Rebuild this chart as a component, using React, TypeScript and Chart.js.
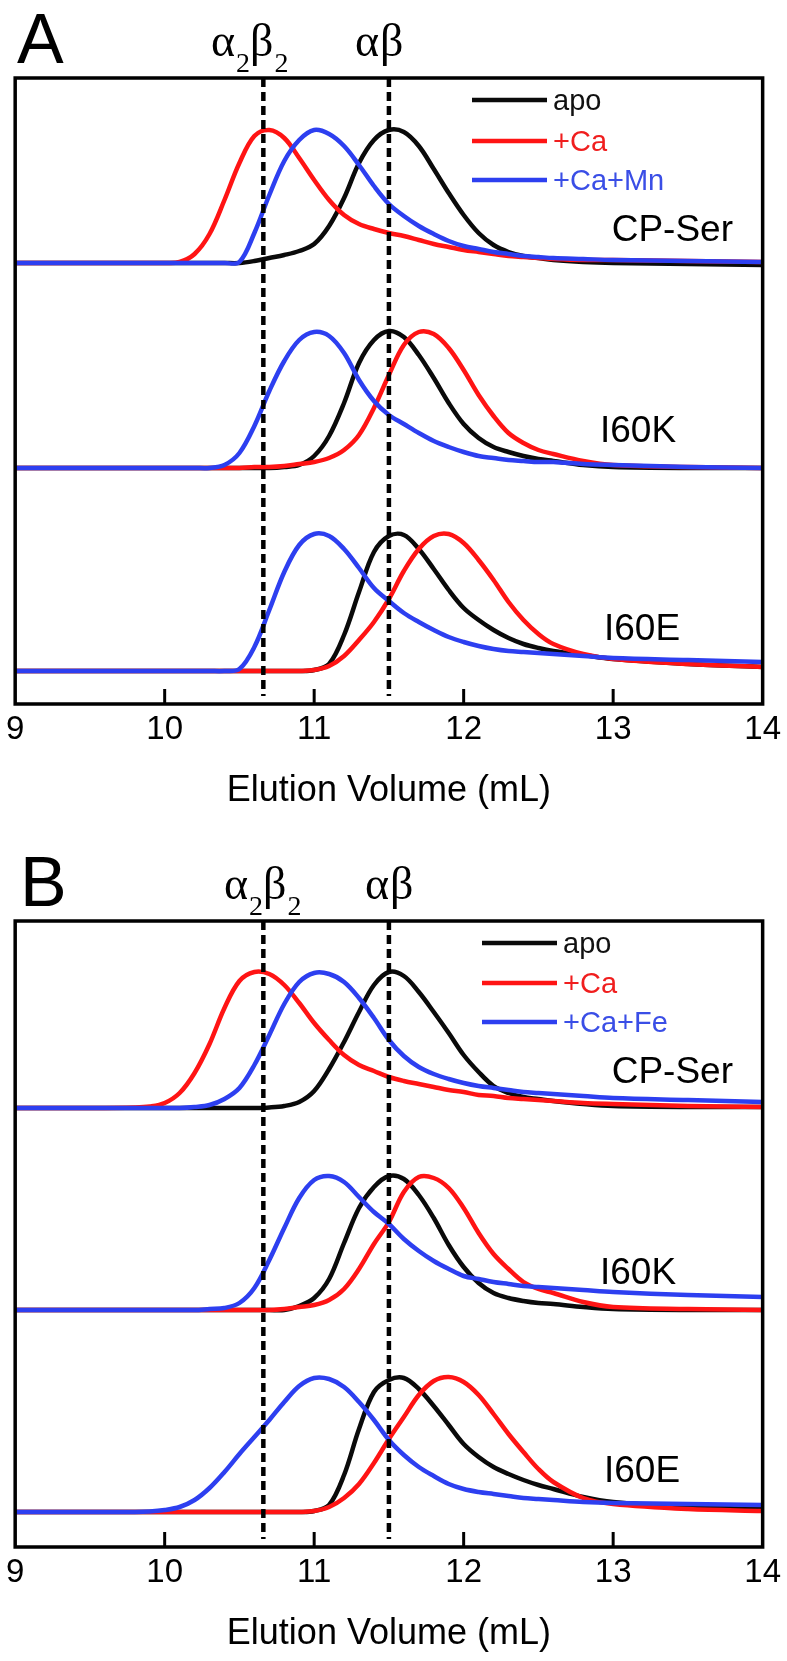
import { useEffect, useRef } from "react";
import { Chart, registerables } from "chart.js";

Chart.register(...registerables);

// ---------- data ----------
const elutionVolume = [
  9.0, 9.5, 9.8, 9.9, 10.0, 10.1, 10.2, 10.3, 10.4, 10.5, 10.6, 10.7, 10.8, 10.9, 11.0, 11.1, 11.2,
  11.3, 11.4, 11.5, 11.6, 11.7, 11.8, 11.9, 12.0, 12.1, 12.2, 12.3, 12.4, 12.5, 12.6, 12.8, 13.0, 13.5, 14.0,
];
const xTickValues = [9, 10, 11, 12, 13, 14];
const markerVolumes = [10.66, 11.5];
const groupNames = ["CP-Ser", "I60K", "I60E"];
const seriesNamesA = ["apo", "+Ca", "+Ca+Mn"];
const seriesNamesB = ["apo", "+Ca", "+Ca+Fe"];
const stackOffsetsA = [4.41, 2.36, 0.33];
const stackOffsetsB = [4.39, 2.37, 0.35];

// Panel A (normalised absorbance above each trace baseline)
const aCpSerApo = [0, 0, 0, 0, 0, 0, 0, 0, 0, 0, 0.02, 0.05, 0.08, 0.12, 0.19, 0.37, 0.65, 1.0, 1.23, 1.33, 1.31, 1.17, 0.94, 0.7, 0.48, 0.3, 0.18, 0.11, 0.07, 0.05, 0.03, 0.01, 0.0, -0.01, -0.02];
const aCpSerCa = [0, 0, 0, 0, 0, 0.01, 0.09, 0.29, 0.63, 1.0, 1.27, 1.33, 1.25, 1.05, 0.83, 0.63, 0.48, 0.39, 0.34, 0.3, 0.27, 0.23, 0.19, 0.16, 0.13, 0.11, 0.09, 0.07, 0.06, 0.05, 0.04, 0.03, 0.03, 0.02, 0.01];
const aCpSerMn = [0, 0, 0, 0, 0, 0, 0, 0, 0, 0.01, 0.3, 0.68, 1.02, 1.23, 1.33, 1.29, 1.17, 0.98, 0.77, 0.59, 0.47, 0.37, 0.29, 0.22, 0.17, 0.14, 0.11, 0.09, 0.07, 0.06, 0.05, 0.04, 0.03, 0.02, 0.01];
const aI60KApo = [0, 0, 0, 0, 0, 0, 0, 0, 0, 0, 0, 0, 0.01, 0.03, 0.12, 0.32, 0.65, 1.05, 1.28, 1.37, 1.31, 1.13, 0.9, 0.65, 0.44, 0.3, 0.21, 0.16, 0.12, 0.09, 0.07, 0.03, 0.01, 0, 0];
const aI60KCa = [0, 0, 0, 0, 0, 0, 0, 0, 0, 0, 0.01, 0.01, 0.02, 0.04, 0.06, 0.1, 0.18, 0.33, 0.6, 0.93, 1.23, 1.36, 1.34, 1.2, 0.98, 0.73, 0.52, 0.35, 0.25, 0.18, 0.14, 0.07, 0.03, 0.01, 0];
const aI60KMn = [0, 0, 0, 0, 0, 0, 0, 0, 0.03, 0.15, 0.42, 0.77, 1.07, 1.28, 1.36, 1.32, 1.15, 0.88, 0.67, 0.53, 0.44, 0.35, 0.27, 0.21, 0.16, 0.12, 0.1, 0.08, 0.07, 0.06, 0.06, 0.04, 0.03, 0.01, 0];
const aI60EApo = [0, 0, 0, 0, 0, 0, 0, 0, 0, 0, 0, 0, 0, 0, 0.01, 0.07, 0.36, 0.79, 1.19, 1.35, 1.36, 1.22, 1.02, 0.81, 0.63, 0.51, 0.41, 0.33, 0.27, 0.23, 0.2, 0.16, 0.12, 0.07, 0.04];
const aI60ECa = [0, 0, 0, 0, 0, 0, 0, 0, 0, 0, 0, 0, 0, 0, 0.01, 0.05, 0.15, 0.31, 0.49, 0.72, 1.0, 1.22, 1.35, 1.37, 1.28, 1.11, 0.91, 0.69, 0.51, 0.37, 0.27, 0.17, 0.12, 0.07, 0.04];
const aI60EMn = [0, 0, 0, 0, 0, 0, 0, 0, 0, 0.02, 0.24, 0.61, 0.99, 1.26, 1.37, 1.35, 1.22, 1.03, 0.83, 0.7, 0.58, 0.49, 0.41, 0.34, 0.29, 0.25, 0.22, 0.2, 0.19, 0.18, 0.17, 0.15, 0.13, 0.11, 0.09];

// Panel B
const bCpSerApo = [0, 0, 0, 0, 0, 0, 0, 0, 0, 0, 0, 0.005, 0.02, 0.06, 0.17, 0.39, 0.66, 0.96, 1.23, 1.36, 1.32, 1.16, 0.96, 0.75, 0.53, 0.36, 0.22, 0.15, 0.11, 0.09, 0.07, 0.04, 0.02, 0.01, 0.01];
const bCpSerCa = [0, 0, 0.005, 0.015, 0.05, 0.15, 0.35, 0.64, 1.0, 1.27, 1.36, 1.34, 1.23, 1.05, 0.85, 0.68, 0.53, 0.43, 0.37, 0.31, 0.27, 0.24, 0.21, 0.18, 0.16, 0.13, 0.12, 0.1, 0.09, 0.08, 0.07, 0.05, 0.04, 0.02, 0.01];
const bCpSerFe = [0, 0, 0, 0, 0, 0, 0.01, 0.03, 0.09, 0.2, 0.43, 0.73, 1.04, 1.26, 1.35, 1.34, 1.26, 1.1, 0.9, 0.68, 0.52, 0.41, 0.34, 0.29, 0.25, 0.22, 0.2, 0.18, 0.16, 0.15, 0.14, 0.12, 0.1, 0.08, 0.06];
const bI60KApo = [0, 0, 0, 0, 0, 0, 0, 0, 0, 0, 0, 0, 0, 0.04, 0.12, 0.31, 0.67, 1.02, 1.23, 1.34, 1.31, 1.15, 0.92, 0.65, 0.43, 0.27, 0.17, 0.12, 0.09, 0.07, 0.06, 0.03, 0.01, 0, 0];
const bI60KCa = [0, 0, 0, 0, 0, 0, 0, 0, 0, 0, 0, 0, 0.01, 0.03, 0.05, 0.1, 0.21, 0.41, 0.66, 0.88, 1.18, 1.33, 1.32, 1.22, 1.02, 0.77, 0.56, 0.41, 0.28, 0.21, 0.17, 0.08, 0.03, 0.01, 0];
const bI60KFe = [0, 0, 0, 0, 0, 0, 0, 0.01, 0.02, 0.07, 0.22, 0.5, 0.82, 1.12, 1.3, 1.34, 1.28, 1.13, 0.98, 0.86, 0.71, 0.59, 0.49, 0.41, 0.34, 0.31, 0.28, 0.26, 0.24, 0.23, 0.22, 0.2, 0.18, 0.15, 0.13];
const bI60EApo = [0, 0, 0, 0, 0, 0, 0, 0, 0, 0, 0, 0, 0, 0, 0.01, 0.07, 0.37, 0.83, 1.2, 1.32, 1.34, 1.23, 1.06, 0.87, 0.68, 0.55, 0.45, 0.38, 0.32, 0.27, 0.23, 0.15, 0.1, 0.05, 0.03];
const bI60ECa = [0, 0, 0, 0, 0, 0, 0, 0, 0, 0, 0, 0, 0, 0, 0.01, 0.05, 0.14, 0.28, 0.49, 0.73, 0.95, 1.17, 1.31, 1.35, 1.3, 1.17, 0.98, 0.78, 0.6, 0.43, 0.3, 0.14, 0.08, 0.03, 0.01];
const bI60EFe = [0, 0, 0, 0.005, 0.02, 0.05, 0.12, 0.24, 0.4, 0.58, 0.75, 0.92, 1.1, 1.26, 1.34, 1.33, 1.25, 1.1, 0.92, 0.72, 0.57, 0.45, 0.36, 0.28, 0.23, 0.2, 0.18, 0.16, 0.14, 0.13, 0.12, 0.1, 0.09, 0.08, 0.07];

// ---------- styling ----------
const SANS = '"Liberation Sans", Arial, Helvetica, sans-serif';
const SERIF = '"Liberation Serif", "Times New Roman", serif';
const COLORS = ["#0a0a0a", "#ff1414", "#2d3ff0"];
const TEXT_COLORS = ["#111111", "#f01e1e", "#3a4ee6"];
const Y_MAX = 6.26;
const DASH_BOTTOM = 0.08;

type Panel = {
  letter: string;
  letterX: number;
  seriesNames: string[];
  values: number[][][];
  offsets: number[];
  legendX: number;
  legendRows: number[];
  pairLeft: number;
  monoLeft: number;
  groupLabelBaselines: number[];
};

const panels: Panel[] = [
  {
    letter: "A",
    letterX: 17,
    seriesNames: seriesNamesA,
    values: [
      [aCpSerApo, aCpSerCa, aCpSerMn],
      [aI60KApo, aI60KCa, aI60KMn],
      [aI60EApo, aI60ECa, aI60EMn],
    ],
    offsets: stackOffsetsA,
    legendX: 472,
    legendRows: [100, 141, 180],
    pairLeft: 211,
    monoLeft: 355,
    groupLabelBaselines: [241, 442, 640],
  },
  {
    letter: "B",
    letterX: 20,
    seriesNames: seriesNamesB,
    values: [
      [bCpSerApo, bCpSerCa, bCpSerFe],
      [bI60KApo, bI60KCa, bI60KFe],
      [bI60EApo, bI60ECa, bI60EFe],
    ],
    offsets: stackOffsetsB,
    legendX: 482,
    legendRows: [100, 140, 179],
    pairLeft: 224,
    monoLeft: 365,
    groupLabelBaselines: [240, 441, 639],
  },
];

function drawGreek(ctx: CanvasRenderingContext2D, parts: [string, boolean][], left: number, baseline: number) {
  let x = left;
  for (const [t, sub] of parts) {
    ctx.font = sub ? `28px ${SERIF}` : `46px ${SERIF}`;
    ctx.fillText(t, x, sub ? baseline + 16 : baseline);
    x += ctx.measureText(t).width + (sub ? 0 : 1);
  }
}

function makePlugin(p: Panel) {
  return {
    id: "panelDecor",
    afterDatasetsDraw(chart: any) {
      const { ctx, chartArea } = chart;
      const xs = chart.scales.x;
      ctx.save();
      ctx.strokeStyle = "#000";
      ctx.lineWidth = 3.5;
      ctx.strokeRect(chartArea.left, chartArea.top, chartArea.right - chartArea.left, chartArea.bottom - chartArea.top);
      // inward tick marks
      ctx.lineWidth = 3;
      for (const v of xTickValues) {
        if (v === xs.min || v === xs.max) continue;
        const px = xs.getPixelForValue(v);
        ctx.beginPath();
        ctx.moveTo(px, chartArea.bottom);
        ctx.lineTo(px, chartArea.bottom - 15);
        ctx.stroke();
      }
      ctx.restore();
    },
    afterDraw(chart: any) {
      const { ctx } = chart;
      ctx.save();
      ctx.fillStyle = "#000";
      ctx.textBaseline = "alphabetic";
      ctx.textAlign = "left";
      // panel letter
      ctx.font = `70px ${SANS}`;
      ctx.fillText(p.letter, p.letterX, 63);
      // oligomer markers
      drawGreek(ctx, [["α", false], ["2", true], ["β", false], ["2", true]], p.pairLeft, 56);
      drawGreek(ctx, [["α", false], ["β", false]], p.monoLeft, 56);
      // legend
      ctx.lineWidth = 4.5;
      p.seriesNames.forEach((name, i) => {
        const y = p.legendRows[i];
        ctx.strokeStyle = COLORS[i];
        ctx.beginPath();
        ctx.moveTo(p.legendX, y);
        ctx.lineTo(p.legendX + 75, y);
        ctx.stroke();
        ctx.fillStyle = TEXT_COLORS[i];
        ctx.font = `29px ${SANS}`;
        ctx.textBaseline = "middle";
        ctx.fillText(name, p.legendX + 81, y + 2);
      });
      // group labels
      ctx.fillStyle = "#000";
      ctx.textBaseline = "alphabetic";
      ctx.font = `37px ${SANS}`;
      ctx.textAlign = "right";
      ctx.fillText(groupNames[0], 733, p.groupLabelBaselines[0]);
      ctx.textAlign = "left";
      ctx.fillText(groupNames[1], 600, p.groupLabelBaselines[1]);
      ctx.fillText(groupNames[2], 604, p.groupLabelBaselines[2]);
      ctx.restore();
    },
  };
}

function buildConfig(p: Panel): any {
  const datasets: any[] = [];
  markerVolumes.forEach((v, i) => {
    datasets.push({
      label: `marker ${i}`,
      data: [
        { x: v, y: Y_MAX },
        { x: v, y: DASH_BOTTOM },
      ],
      borderColor: "#000",
      borderWidth: 4.5,
      borderDash: [9, 5],
      pointRadius: 0,
      tension: 0,
      order: 0,
    });
  });
  const drawOrder = [3, 2, 1];
  p.values.forEach((group, g) => {
    group.forEach((vals, s) => {
      datasets.push({
        label: `${groupNames[g]} ${p.seriesNames[s]}`,
        data: elutionVolume.map((x, i) => ({ x, y: p.offsets[g] + vals[i] })),
        borderColor: COLORS[s],
        borderWidth: 4.5,
        pointRadius: 0,
        tension: 0.35,
        borderJoinStyle: "round",
        borderCapStyle: "round",
        order: drawOrder[s],
      });
    });
  });
  return {
    type: "line",
    data: { datasets },
    options: {
      animation: false,
      responsive: false,
      events: [],
      layout: { padding: { left: 12, right: 21, top: 78, bottom: 0 } },
      plugins: { legend: { display: false }, tooltip: { enabled: false } },
      scales: {
        x: {
          type: "linear",
          min: 9,
          max: 14,
          afterBuildTicks: (scale: any) => {
            scale.ticks = xTickValues.map((v) => ({ value: v }));
          },
          afterFit: (scale: any) => {
            scale.height = 114;
          },
          ticks: {
            color: "#000",
            font: { family: SANS, size: 33 },
            padding: 6,
            maxRotation: 0,
            autoSkip: false,
          },
          grid: { display: false, drawTicks: false },
          border: { display: false },
          title: {
            display: true,
            text: "Elution Volume (mL)",
            color: "#000",
            font: { family: SANS, size: 36 },
            padding: { top: 0, bottom: 5 },
          },
        },
        y: { display: false, min: 0, max: Y_MAX },
      },
    },
    plugins: [makePlugin(p)],
  };
}

function PanelChart({ panel, top }: { panel: Panel; top: number }) {
  const ref = useRef<HTMLCanvasElement | null>(null);
  useEffect(() => {
    if (!ref.current) return;
    const chart = new Chart(ref.current, buildConfig(panel));
    return () => chart.destroy();
  }, [panel]);
  return (
    <canvas
      ref={ref}
      width={787}
      height={818}
      style={{ position: "absolute", left: 0, top, width: 787, height: 818, display: "block" }}
    />
  );
}

export default function App() {
  return (
    <div style={{ position: "absolute", left: 0, top: 0, width: 787, height: 1661, background: "#fff" }}>
      <PanelChart panel={panels[0]} top={0} />
      <PanelChart panel={panels[1]} top={843} />
    </div>
  );
}
